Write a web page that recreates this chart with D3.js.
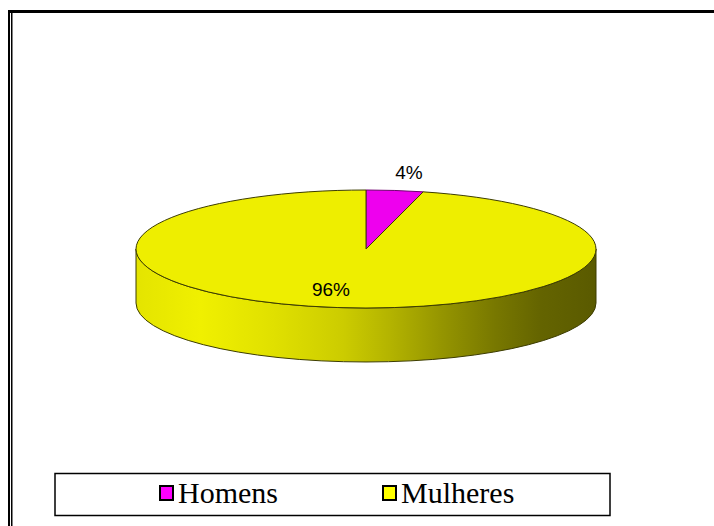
<!DOCTYPE html>
<meta charset="utf-8">
<head>
<script src="https://cdn.jsdelivr.net/npm/d3@7"></script>
<style>
  body { margin: 0; background: #fff; }
</style>
</head>
<body>
<svg id="chart" width="714" height="526"></svg>
<script>
// data
var categories = ["Homens", "Mulheres"];
var values = [4, 96];
var labels = ["4%", "96%"];
var topColors = ["#ee00ee", "#eeee00"];
var edgeColors = ["#700070", "#3c3c00"];
var legendColors = ["#ff00ff", "#ffff00"];

var svg = d3.select("#chart");

// frame: thick top line, double left line
svg.append("rect").attr("x", 8).attr("y", 10).attr("width", 706).attr("height", 3).attr("fill", "#000");
svg.append("rect").attr("x", 8).attr("y", 10).attr("width", 2).attr("height", 516).attr("fill", "#000");
svg.append("rect").attr("x", 11).attr("y", 12).attr("width", 1.5).attr("height", 514).attr("fill", "#000");

var cx = 366, cy = 249, rx = 230, ry = 59, depth = 54;

var defs = svg.append("defs");
var grad = defs.append("linearGradient")
    .attr("id", "side")
    .attr("gradientUnits", "userSpaceOnUse")
    .attr("x1", -rx).attr("x2", rx).attr("y1", 0).attr("y2", 0);
[[0, "#e4e400"], [0.14, "#f0f000"], [0.3, "#e0e000"], [0.45, "#cccc00"],
 [0.55, "#b4b400"], [0.66, "#969600"], [0.78, "#787800"], [0.88, "#646400"], [1, "#5a5a00"]]
  .forEach(function(s) { grad.append("stop").attr("offset", s[0]).attr("stop-color", s[1]); });

var pie = d3.pie().sort(null).value(function(d) { return d; });
var arcs = pie(values);

function pt(a, dy) { return [rx * Math.sin(a), -ry * Math.cos(a) + (dy || 0)]; }

var g = svg.append("g").attr("transform", "translate(" + cx + "," + cy + ")");

// sides (only the front half, angles pi/2..3pi/2)
arcs.forEach(function(d, i) {
  var a1 = Math.max(d.startAngle, Math.PI / 2), a2 = Math.min(d.endAngle, 3 * Math.PI / 2);
  if (a2 <= a1) return;
  var p1 = pt(a1), p2 = pt(a2), q2 = pt(a2, depth), q1 = pt(a1, depth);
  var path = "M" + p1 + "A" + rx + "," + ry + " 0 0 1 " + p2 +
             "L" + q2 + "A" + rx + "," + ry + " 0 0 0 " + q1 + "Z";
  g.append("path").attr("d", path)
    .attr("fill", i === 1 ? "url(#side)" : topColors[i])
    .attr("stroke", edgeColors[i]).attr("stroke-width", 1);
});

// top faces
arcs.forEach(function(d, i) {
  var p1 = pt(d.startAngle), p2 = pt(d.endAngle);
  var large = (d.endAngle - d.startAngle) > Math.PI ? 1 : 0;
  var path = "M0,0L" + p1 + "A" + rx + "," + ry + " 0 " + large + " 1 " + p2 + "Z";
  g.append("path").attr("d", path)
    .attr("fill", topColors[i])
    .attr("stroke", edgeColors[i]).attr("stroke-width", 1);
});

// percentage labels
var labelPos = [[43, -70], [-35, 47]];
labels.forEach(function(t, i) {
  g.append("text")
    .attr("x", labelPos[i][0]).attr("y", labelPos[i][1])
    .attr("text-anchor", "middle")
    .attr("font-family", "Liberation Sans, Arial, sans-serif")
    .attr("font-size", 19)
    .attr("fill", "#000")
    .text(t);
});

// legend
var legend = svg.append("g");
legend.append("rect").attr("x", 55).attr("y", 473.5).attr("width", 555).attr("height", 42)
  .attr("fill", "#fff").attr("stroke", "#000").attr("stroke-width", 1.5);
var legendX = d3.scaleOrdinal().domain(categories).range([159, 382]);
categories.forEach(function(c, i) {
  var x = legendX(c);
  legend.append("rect").attr("x", x + 1).attr("y", 486).attr("width", 13).attr("height", 14)
    .attr("fill", legendColors[i]).attr("stroke", "#000").attr("stroke-width", 2);
  legend.append("text").attr("x", x + 19).attr("y", 503)
    .attr("font-family", "Liberation Serif, Times New Roman, serif")
    .attr("font-size", 30)
    .attr("fill", "#000")
    .text(c);
});
</script>
</body>
